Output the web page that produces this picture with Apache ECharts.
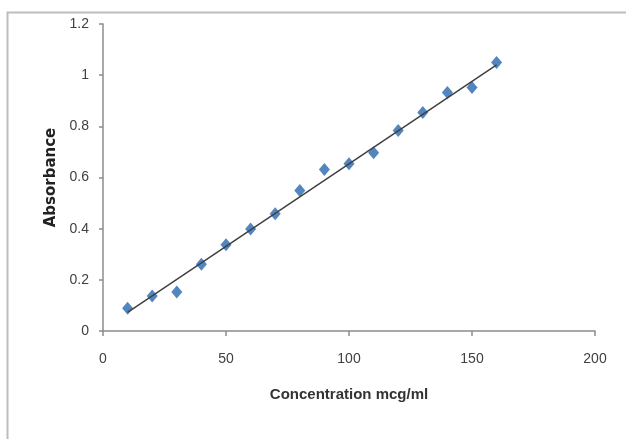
<!DOCTYPE html>
<html>
<head>
<meta charset="utf-8">
<script src="https://cdn.jsdelivr.net/npm/echarts@6/dist/echarts.min.js"></script>
<style>
html,body{margin:0;padding:0;background:#fff;}
#c{width:626px;height:439px;}
</style>
</head>
<body>
<div id="c"></div>
<script>
var concentration = [10, 20, 30, 40, 50, 60, 70, 80, 90, 100, 110, 120, 130, 140, 150, 160];
var absorbance = [0.089, 0.137, 0.152, 0.261, 0.337, 0.399, 0.458, 0.549, 0.631, 0.654, 0.697, 0.784, 0.854, 0.932, 0.952, 1.050];
var trendX = [10, 160];
var trendY = [0.073, 1.040];
var xTicks = [0, 50, 100, 150, 200];
var yTicks = [0, 0.2, 0.4, 0.6, 0.8, 1, 1.2];

var points = concentration.map(function (x, i) { return [x, absorbance[i]]; });
var trend = trendX.map(function (x, i) { return [x, trendY[i]]; });

var chart = echarts.init(document.getElementById('c'), null, {renderer: 'canvas'});
var axisColor = '#8c8c8c';
var labelColor = '#404040';
chart.setOption({
  animation: false,
  backgroundColor: '#ffffff',
  graphic: [{
    type: 'rect',
    shape: {x: 7.5, y: 12.5, width: 700, height: 500},
    style: {fill: 'none', stroke: '#bdbdbd', lineWidth: 2},
    silent: true
  }],
  grid: {left: 103, right: 31, top: 24, bottom: 108, containLabel: false},
  xAxis: {
    type: 'value',
    min: xTicks[0], max: xTicks[xTicks.length - 1], interval: 50,
    name: 'Concentration mcg/ml',
    nameLocation: 'middle',
    nameGap: 56,
    nameTextStyle: {fontFamily: 'Liberation Sans', fontSize: 15, color: '#333', fontWeight: 'bold'},
    axisLine: {show: true, lineStyle: {color: axisColor, width: 1.5}},
    axisTick: {show: true, length: 5, inside: false, lineStyle: {color: axisColor, width: 1.5}},
    axisLabel: {fontFamily: 'Liberation Sans', fontSize: 14, color: labelColor, margin: 21},
    splitLine: {show: false}
  },
  yAxis: {
    type: 'value',
    min: yTicks[0], max: yTicks[yTicks.length - 1], interval: 0.2,
    name: 'Absorbance',
    nameLocation: 'middle',
    nameGap: 44,
    nameRotate: 90,
    nameTextStyle: {fontFamily: 'DejaVu Sans', fontSize: 15, color: '#222', fontWeight: 'bold'},
    axisLine: {show: true, lineStyle: {color: axisColor, width: 1.5}},
    axisTick: {show: true, length: 4, inside: false, lineStyle: {color: axisColor, width: 1.5}},
    axisLabel: {fontFamily: 'Liberation Sans', fontSize: 14, color: labelColor, margin: 14},
    splitLine: {show: false}
  },
  series: [{
    type: 'line',
    data: trend,
    showSymbol: false,
    symbol: 'none',
    lineStyle: {color: '#404040', width: 1.5},
    z: 3
  }, {
    type: 'scatter',
    data: points,
    symbol: 'diamond',
    symbolSize: [11, 13],
    itemStyle: {color: '#4a7ebb', opacity: 0.95},
    z: 2
  }]
});
</script>
</body>
</html>
